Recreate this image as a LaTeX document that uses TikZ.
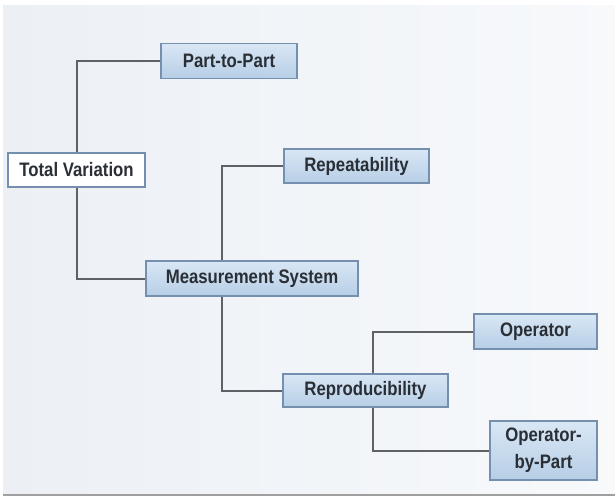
\documentclass[tikz,border=0pt]{standalone}
\usepackage{fontspec}
\setmainfont{Liberation Sans}[FakeStretch=0.86]
\usetikzlibrary{backgrounds}

\definecolor{boxfilltop}{HTML}{D9E7F5}
\definecolor{boxfillbot}{HTML}{B7CEE6}
\definecolor{boxedge}{HTML}{7590AE}
\definecolor{linkgray}{HTML}{5E6266}
\definecolor{textgray}{HTML}{2A2E35}
\definecolor{panelleft}{HTML}{ECF0F5}
\definecolor{panelright}{HTML}{F7F9FB}

\tikzset{
  varbox/.style={draw=boxedge, line width=1.3pt, top color=boxfilltop,
    bottom color=boxfillbot, text=textgray, inner sep=0pt, align=center,
    font=\bfseries\fontsize{19.5}{27}\selectfont},
  rootbox/.style={varbox, top color=white, bottom color=white},
  link/.style={draw=linkgray, line width=2pt}
}

\begin{document}
\begin{tikzpicture}[x=1pt, y=-1pt]
  \useasboundingbox (0,0) rectangle (615,500);
  % boxes
  \node[rootbox, minimum width=137pt, minimum height=34pt] (total) at (76.5,170) {Total Variation};
  \node[varbox, minimum width=136pt, minimum height=35pt] (ptp) at (229,61) {Part-to-Part};
  \node[varbox, minimum width=212pt, minimum height=35pt] (meas) at (252,278.5) {Measurement System};
  \node[varbox, minimum width=145pt, minimum height=34pt] (repeat) at (356.5,166) {Repeatability};
  \node[varbox, minimum width=165pt, minimum height=33pt] (reprod) at (365.5,390.5) {Reproducibility};
  \node[varbox, minimum width=123pt, minimum height=35pt] (oper) at (535.5,331.5) {Operator};
  \node[varbox, minimum width=107pt, minimum height=59pt] (opbypart) at (543.5,450.5) {Operator-\\by-Part};
  % branch points
  \coordinate (measbus) at ([xshift=-30pt]meas.center);
  \coordinate (reprodbus) at ([xshift=7.5pt]reprod.center);
  \begin{scope}[on background layer]
    % panel
    \shade[left color=panelleft, right color=panelright] (3,6) rectangle (615,494);
    \draw[gray!75, line width=1.5pt] (3,495) -- (615,495);
    \draw[link] (ptp.west) -| (total.center) |- (meas.west);
    \draw[link] (repeat.west) -| (measbus) |- (reprod.west);
    \draw[link] (oper.west) -| (reprodbus) |- (opbypart.west);
  \end{scope}
\end{tikzpicture}
\end{document}
